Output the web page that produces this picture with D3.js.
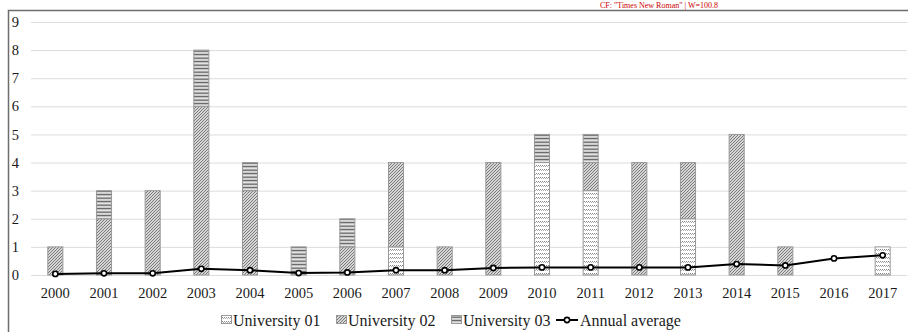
<!DOCTYPE html>
<html>
<head>
<meta charset="utf-8">
<script src="https://cdn.jsdelivr.net/npm/d3@7"></script>
</head>
<body style="margin:0;background:#fff">
<script>
const years = ["2000","2001","2002","2003","2004","2005","2006","2007","2008","2009","2010","2011","2012","2013","2014","2015","2016","2017"];
const university01 = [0,0,0,0,0,0,0,1,0,0,4,3,0,2,0,0,0,1];
const university02 = [1,2,3,6,3,0,1,3,1,4,0,1,4,2,5,1,0,0];
const university03 = [0,1,0,2,1,1,1,0,0,0,1,1,0,0,0,0,0,0];
const annualAverage = [0.04,0.06,0.06,0.22,0.17,0.07,0.09,0.17,0.17,0.25,0.27,0.27,0.27,0.27,0.39,0.34,0.59,0.70];
const yTicks = [0,1,2,3,4,5,6,7,8,9];
const seriesNames = ["University 01","University 02","University 03"];
const lineName = "Annual average";

const W = 908, H = 332;
const plot = {left: 31, right: 907, top: 22, bottom: 275};
const FONT = "Times New Roman";

const svg = d3.select("body").append("svg").attr("width", W).attr("height", H)
  .style("display","block").style("font-family", FONT);
const defs = svg.append("defs");

const p1 = defs.append("pattern").attr("id","pat1").attr("patternUnits","userSpaceOnUse").attr("width",4).attr("height",4);
p1.append("rect").attr("width",4).attr("height",4).attr("fill","#fff");
p1.append("rect").attr("x",0).attr("y",1).attr("width",1).attr("height",1).attr("fill","#8a8a8a");
p1.append("rect").attr("x",1).attr("y",2).attr("width",1).attr("height",1).attr("fill","#b0b0b0");
p1.append("rect").attr("x",2).attr("y",1).attr("width",1).attr("height",1).attr("fill","#8a8a8a");
p1.append("rect").attr("x",3).attr("y",2).attr("width",1).attr("height",1).attr("fill","#b0b0b0");

const p2 = defs.append("pattern").attr("id","pat2").attr("patternUnits","userSpaceOnUse").attr("width",3).attr("height",3);
p2.append("rect").attr("width",3).attr("height",3).attr("fill","#d6d6d6");
p2.append("path").attr("d","M0,3 L3,0 M-1,1 L1,-1 M2,4 L4,2").attr("stroke","#7a7a7a").attr("stroke-width",1);

const p3 = defs.append("pattern").attr("id","pat3").attr("patternUnits","userSpaceOnUse").attr("width",4).attr("height",3.5);
p3.append("rect").attr("width",4).attr("height",3.5).attr("fill","#e6e6e6");
p3.append("rect").attr("x",0).attr("y",1.5).attr("width",4).attr("height",1.3).attr("fill","#555");

const fills = ["url(#pat1)","url(#pat2)","url(#pat3)"];

svg.append("path").attr("d", `M8.5,${H+5} L8.5,10.5 L${W+5},10.5`)
  .attr("fill","none").attr("stroke","#6e6e6e").attr("stroke-width",1.5);

const x = d3.scaleBand().domain(years).range([plot.left, plot.right])
  .paddingInner(0.67).paddingOuter(0.335);
const y = d3.scaleLinear().domain([0,9]).range([plot.bottom, plot.top]);

const yAxis = svg.append("g").attr("transform",`translate(${plot.left},0)`)
  .call(d3.axisLeft(y).tickValues(yTicks).tickFormat(d3.format("d")).tickSize(-(plot.right-plot.left)).tickPadding(12));
yAxis.attr("font-family", FONT).attr("font-size", "14.5px");
yAxis.select(".domain").remove();
yAxis.selectAll(".tick line").attr("stroke","#dcdcdc").attr("stroke-width",1);
yAxis.selectAll(".tick text").style("font-family", FONT).attr("fill","#1a1a1a");

const xAxis = svg.append("g").attr("transform",`translate(0,${plot.bottom})`)
  .call(d3.axisBottom(x).tickSize(0).tickPadding(13));
xAxis.attr("font-family", FONT).attr("font-size", "14.5px");
xAxis.select(".domain").remove();
xAxis.selectAll(".tick text").style("font-family", FONT).attr("fill","#1a1a1a");

const table = years.map((yr,i) => ({year: yr, s0: university01[i], s1: university02[i], s2: university03[i]}));
const stack = d3.stack().keys(["s0","s1","s2"])(table);

svg.append("g").selectAll("g").data(stack).join("g")
  .attr("fill", (d,i) => fills[i])
  .selectAll("rect").data(d => d.filter(p => p[1] - p[0] > 0)).join("rect")
  .attr("x", d => x(d.data.year) + 0.5)
  .attr("y", d => y(d[1]))
  .attr("width", x.bandwidth() - 1)
  .attr("height", d => y(d[0]) - y(d[1]))
  .attr("stroke","#999").attr("stroke-width",1);

const cx = yr => x(yr) + x.bandwidth()/2;
svg.append("path").datum(annualAverage)
  .attr("d", d3.line().x((d,i) => cx(years[i])).y(d => y(d)))
  .attr("fill","none").attr("stroke","#000").attr("stroke-width",2);
svg.append("g").selectAll("circle").data(annualAverage).join("circle")
  .attr("cx",(d,i) => cx(years[i])).attr("cy", d => y(d)).attr("r",2.6)
  .attr("fill","#fff").attr("stroke","#000").attr("stroke-width",1.6);

const legY = 320;
const lg = svg.append("g").attr("font-family", FONT).attr("font-size","16px");
const legX = [221, 336, 451];
seriesNames.forEach((name,i) => {
  lg.append("rect").attr("x", legX[i]+0.5).attr("y", legY-4.5).attr("width",10).attr("height",8)
    .attr("fill", fills[i]).attr("stroke","#999").attr("stroke-width",1);
  lg.append("text").attr("x", legX[i]+12).attr("y", legY+5.5).style("font-family", FONT)
    .attr("fill","#1a1a1a").text(name);
});
const lx = 556;
lg.append("line").attr("x1",lx).attr("x2",lx+22).attr("y1",legY).attr("y2",legY).attr("stroke","#000").attr("stroke-width",2);
lg.append("circle").attr("cx",lx+11).attr("cy",legY).attr("r",2.6).attr("fill","#fff").attr("stroke","#000").attr("stroke-width",1.6);
const lastText = lg.append("text").attr("x", lx+24).attr("y", legY+5.5).style("font-family", FONT)
  .attr("fill","#1a1a1a").text(lineName);

// diagnostic: computed font family of a legend label
svg.append("text").attr("x", 600).attr("y", 8).attr("font-size", "8px").attr("fill","#c00")
  .text("CF: " + getComputedStyle(lastText.node()).fontFamily + " | W=" + lastText.node().getComputedTextLength().toFixed(1));
</script>
</body>
</html>
